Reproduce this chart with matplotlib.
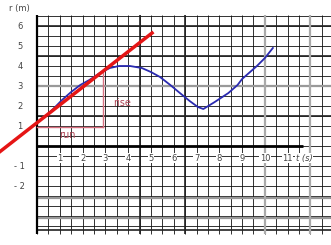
import numpy as np
import matplotlib
matplotlib.use("Agg")
import matplotlib.pyplot as plt

# position-time curve
t_pts = [0.35, 0.8, 1.1, 1.5, 1.9, 2.3, 2.76, 3.2, 3.6, 4.08, 4.6, 5.0, 5.4,
         5.85, 6.27, 6.7, 7.06, 7.3, 7.8, 8.4, 8.8, 9.0, 9.65, 10.0, 10.35]
x_pts = [1.45, 1.95, 2.3, 2.7, 3.05, 3.3, 3.65, 3.9, 4.0, 4.0, 3.9, 3.7, 3.45,
         3.05, 2.65, 2.25, 1.95, 1.85, 2.2, 2.65, 3.05, 3.35, 4.0, 4.4, 4.9]

# tangent line endpoints
tan_t = [-1.62, 5.05]
tan_x = [-0.28, 5.65]

# rise / run triangle
run_t = [0.0, 2.9]
run_x = 0.95
rise_x = [0.95, 3.7]

xtick_vals = list(range(1, 12))
ytick_vals = [1, 2, 3, 4, 5, 6, -1, -2]

fig = plt.figure(figsize=(3.31, 2.45), dpi=100)
ax = fig.add_axes([0, 0, 1, 1])
ax.set_xlim(-1.62, 12.9)
ax.set_ylim(-4.95, 7.3)
ax.axis("off")

# graph paper
for v in np.arange(0, 13, 0.5):
    ax.vlines(v, -4.4, 6.55, color="#111111", lw=0.6, zorder=1)
for h in np.arange(-4.0, 6.6, 0.5):
    ax.hlines(h, 0, 12.9, color="#111111", lw=0.6, zorder=1)
# darker / grey lines from the scan
for h in [6.0, 4.5, 1.5, -4.2]:
    ax.hlines(h, 0, 12.9, color="#222222", lw=1.2, zorder=1)
for h in [3.0, -2.6, -3.6]:
    ax.hlines(h, 0, 12.9, color="#999999", lw=1.6, zorder=1)
for v in [4.5, 6.5]:
    ax.vlines(v, -4.4, 6.55, color="#222222", lw=1.2, zorder=1)
for v in [10.0, 12.0]:
    ax.vlines(v, -4.4, 6.55, color="#aaaaaa", lw=1.6, zorder=1)

# axes
ax.hlines(0, 0, 11.65, color="black", lw=2.0, zorder=2)
ax.vlines(0, -4.4, 6.55, color="black", lw=1.6, zorder=2)

for v in xtick_vals:
    ax.text(v, -0.6, str(v), ha="center", va="center", fontsize=6,
            color="#444444", zorder=3,
            bbox=dict(facecolor="white", edgecolor="none", pad=0.3))
ax.text(11.35, -0.6, "t (s)", ha="left", va="center", fontsize=6,
        color="#444444", zorder=3, style="italic",
        bbox=dict(facecolor="white", edgecolor="none", pad=0.3))
for v in ytick_vals:
    lab = str(v) if v > 0 else "- " + str(-v)
    ax.text(-0.75, v, lab, ha="center", va="center", fontsize=6,
            color="#444444", zorder=3)
ax.text(-0.75, 6.9, "r (m)", ha="center", va="center", fontsize=6,
        color="#444444", zorder=3)

# rise / run
ax.plot(run_t, [run_x, run_x], color="#d87080", lw=1.0, zorder=3)
ax.plot([run_t[1], run_t[1]], rise_x, color="#d87080", lw=1.0, zorder=3)
ax.text(1.35, 0.55, "run", ha="center", va="center", fontsize=7,
        color="#b04858", zorder=4)
ax.text(3.35, 2.15, "rise", ha="left", va="center", fontsize=7,
        color="#b04858", zorder=4)

ax.plot(t_pts, x_pts, color="#2a2ab0", lw=1.3, zorder=5)
ax.plot(tan_t, tan_x, color="#e51515", lw=2.5, zorder=6)

fig.savefig("out.png", dpi=100)
